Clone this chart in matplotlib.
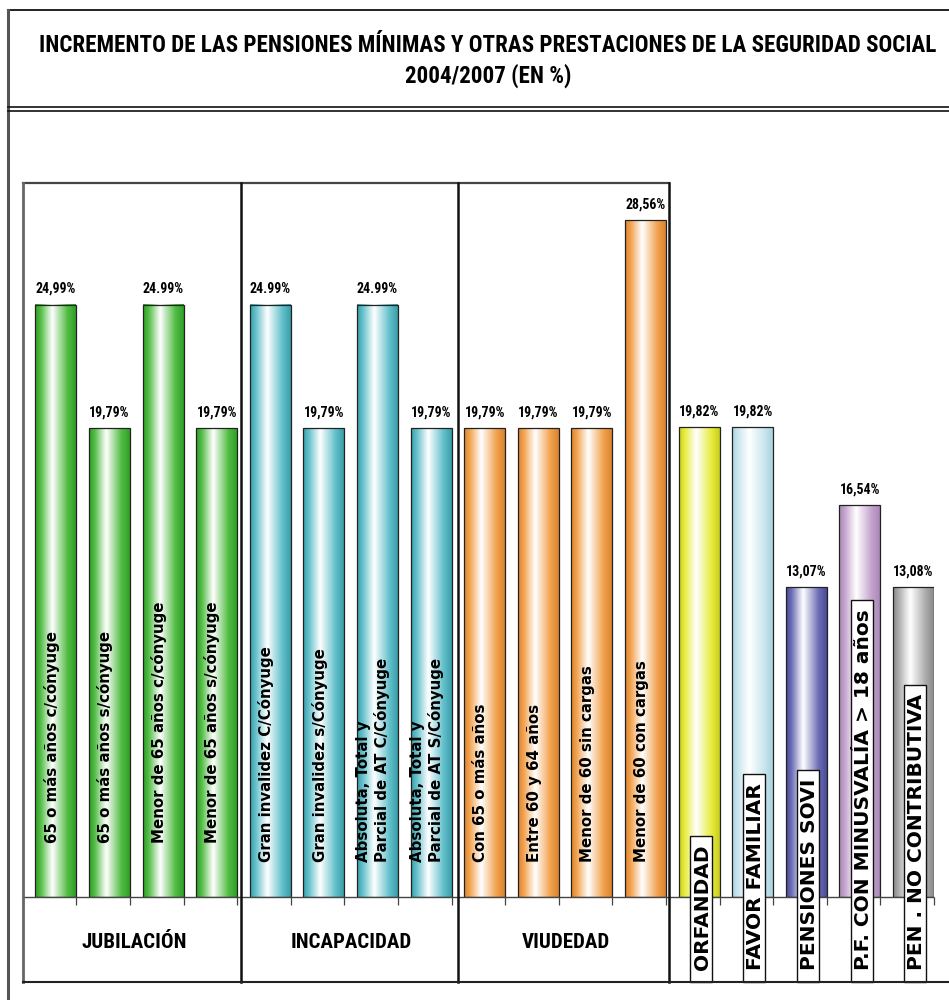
import matplotlib
matplotlib.use("Agg")
import matplotlib.pyplot as plt
import numpy as np
from matplotlib import font_manager as fm
from matplotlib.colors import LinearSegmentedColormap
from matplotlib.patches import Rectangle

W, H = 949, 1000

categorias = ["65 o más años c/cónyuge", "65 o más años s/cónyuge",
              "Menor de 65 años c/cónyuge", "Menor de 65 años s/cónyuge",
              "Gran invalidez C/Cónyuge", "Gran invalidez s/Cónyuge",
              "Absoluta, Total y\nParcial de AT C/Cónyuge", "Absoluta, Total y\nParcial de AT S/Cónyuge",
              "Con 65 o más años", "Entre 60 y 64 años",
              "Menor de 60 sin cargas", "Menor de 60 con cargas",
              "ORFANDAD", "FAVOR FAMILIAR", "PENSIONES SOVI",
              "P.F. CON MINUSVALÍA > 18 años", "PEN . NO CONTRIBUTIVA"]
valores = [24.99, 19.79, 24.99, 19.79, 24.99, 19.79, 24.99, 19.79,
           19.79, 19.79, 19.79, 28.56, 19.82, 19.82, 13.07, 16.54, 13.08]
etiquetas = ["24,99%", "19,79%", "24.99%", "19,79%", "24.99%", "19,79%", "24.99%", "19,79%",
             "19,79%", "19,79%", "19,79%", "28,56%", "19,82%", "19,82%", "13,07%", "16,54%", "13,08%"]
grupos = ["JUBILACIÓN", "INCAPACIDAD", "VIUDEDAD"]
barras_por_grupo = 4

# (base, borde) per bar family
VERDE, TURQ, NARANJA = ("#52bc44", "#30a028"), ("#62c0cb", "#3a9faa"), ("#f2a24e", "#dc8430")
colores = [VERDE] * 4 + [TURQ] * 4 + [NARANJA] * 4 + [
    ("#e8ec3c", "#c9cd1e"), ("#c8e6ee", "#a9d3dd"), ("#6c6eb6", "#4a4c98"),
    ("#c4a4ce", "#a98ab6"), ("#acacac", "#8a8a8a")]

TITULO = ["INCREMENTO DE LAS PENSIONES MÍNIMAS Y OTRAS PRESTACIONES DE LA SEGURIDAD SOCIAL",
          "2004/2007 (EN %)"]


def pick(*names):
    avail = {f.name for f in fm.fontManager.ttflist}
    for n in names:
        if n in avail:
            return n
    return "DejaVu Sans"


COND = pick("Liberation Sans Narrow", "DejaVu Sans Condensed", "Roboto Condensed", "Open Sans Condensed")
NARROW = COND != "DejaVu Sans"
K = 1.0 if NARROW else 0.8

# layout (pixels)
X0, X1 = 22.7, 934.0          # category axis extent
Y0, YTOP = 897.0, 183.0       # baseline, top of box
YBOT = 982.0                  # bottom of category table
PX_PER_UNIT = 23.69
N = len(valores)
GAP = 0.237                   # bars sit at right side of each category
BW = 1 - GAP

fig = plt.figure(figsize=(W / 100, H / 100), dpi=100, facecolor="white")
ax = fig.add_axes([X0 / W, 1 - Y0 / H, (X1 - X0) / W, (Y0 - YTOP) / H])
ax.set_xlim(0, N)
ax.set_ylim(0, (Y0 - YTOP) / PX_PER_UNIT)
ax.axis("off")

for i, (v, (base, dark)) in enumerate(zip(valores, colores)):
    x0 = i + GAP
    cmap = LinearSegmentedColormap.from_list(
        f"g{i}", [(0, dark), (0.13, base), (0.42, "#ffffff"), (0.8, base), (1, dark)])
    grad = np.linspace(0, 1, 64)[None, :]
    ax.imshow(grad, cmap=cmap, extent=[x0, x0 + BW, 0, v], aspect="auto",
              interpolation="bilinear", zorder=1)
    ax.bar(x0, v, width=BW, align="edge", facecolor="none", edgecolor="#222222", lw=0.9, zorder=2)
    ax.annotate(etiquetas[i], (x0 + BW / 2, v), xytext=(0, 11.5), textcoords="offset points",
                ha="center", va="center", fontsize=10 * K, fontweight="bold", family=COND,
                stretch="condensed")

# labels inside bars (first three groups)
n_in = barras_por_grupo * len(grupos)
for i in range(n_in):
    xc = i + GAP + BW / 2 - 0.08
    yb = (Y0 - 843) / PX_PER_UNIT if i < barras_por_grupo else (Y0 - 862) / PX_PER_UNIT
    ax.text(xc, yb, categorias[i], rotation=90, ha="center", va="bottom", fontsize=10.8,
            fontweight="bold", family="DejaVu Sans", multialignment="left", linespacing=1.2,
            zorder=3)

# boxed labels (remaining bars) - box drawn afterwards from the text extent
cajas = []
for i in range(n_in, N):
    xc = i + GAP + BW / 2 + 0.06
    t = ax.text(xc, (Y0 - 970) / PX_PER_UNIT, categorias[i], rotation=90, ha="center",
                va="bottom", fontsize=14.5, fontweight="bold", family="DejaVu Sans", zorder=5,
                clip_on=False)
    cajas.append(t)

# axis line and ticks
ax.hlines(0, 0, N, colors="#444444", lw=1.0, clip_on=False, zorder=3)
ax.vlines(np.arange(N + 1), -8 / PX_PER_UNIT, 0, colors="#444444", lw=0.9, clip_on=False)

# frame / table decorations in pixel coordinates
deco = fig.add_axes([0, 0, 1, 1])
deco.set_xlim(0, W)
deco.set_ylim(H, 0)
deco.axis("off")

bordes = [X0, 241, 458, 669]
deco.plot([8, W], [10, 10], color="#222222", lw=1.4)
deco.plot([8, 8], [10, H], color="#555555", lw=2.2)
deco.plot([8, W], [107, 107], color="#111111", lw=1.2)
deco.plot([8, W], [111, 111], color="#111111", lw=1.2)
deco.plot([X0, bordes[-1]], [YTOP, YTOP], color="#444444", lw=1.6)
deco.plot([X0, X0], [YTOP, YBOT], color="#666666", lw=2.0)
for b in bordes[1:]:
    deco.plot([b, b], [YTOP, YBOT], color="#111111", lw=1.8)
deco.plot([X0, W], [YBOT, YBOT], color="#222222", lw=1.5)

for g, (a, b) in enumerate(zip(bordes[:-1], bordes[1:])):
    deco.text((a + b) / 2 + 2, 943, grupos[g], ha="center", va="center", fontsize=15 * K,
              fontweight="bold", family=COND, stretch="condensed")

for line, y in zip(TITULO, [46, 76]):
    deco.text(488, y, line, ha="center", va="center", fontsize=16.6 * K, fontweight="bold",
              family=COND, stretch="condensed")

# white boxes behind the rotated labels of the last five bars
fig.canvas.draw()
r = fig.canvas.get_renderer()
for t in cajas:
    bb = t.get_window_extent(r)
    left, right = bb.x0 - 3, bb.x1
    top = H - bb.y1 - 9
    ax.add_patch(Rectangle((left, H - YBOT), right - left, YBOT - top,
                           transform=None, facecolor="white", edgecolor="#111111",
                           lw=1.0, zorder=4, clip_on=False))

fig.savefig("out.png", dpi=100, facecolor="white")
